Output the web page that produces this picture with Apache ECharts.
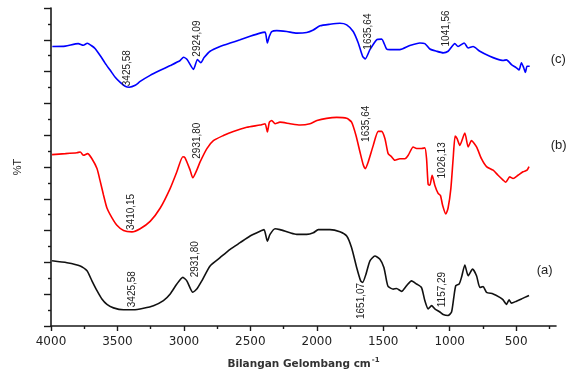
<!DOCTYPE html>
<html><head><meta charset="utf-8">
<script src="https://cdn.jsdelivr.net/npm/echarts@6/dist/echarts.min.js"></script>
<style>html,body{margin:0;padding:0;background:#fff}#c{width:574px;height:375px}</style>
</head><body><div id="c"></div>
<script>
// x tick labels (wavenumber, cm-1)
const majorTicks = [4000, 3500, 3000, 2500, 2000, 1500, 1000, 500];
const minorTicks = [3750, 3250, 2750, 2250, 1750, 1250, 750, 250];

// (c) blue
const cWn = [3990,3892,3795,3757,3727,3697,3667,3629,3592,3554,3517,3479,3442,3411,3366,3329,3254,3178,3103,3028,3003,2976,2928,2898,2873,2848,2803,2728,2652,2577,2502,2427,2389,2372,2357,2339,2301,2226,2151,2076,2026,1976,1901,1826,1775,1726,1688,1655,1635,1600,1550,1512,1475,1450,1375,1300,1224,1187,1149,1099,1049,1012,961,937,891,861,824,773,698,648,598,573,535,498,478,460,443,430,418,398];
const cT  = [87.9,88.0,88.8,88.3,88.9,88.2,87.2,85.0,82.6,80.4,78.2,76.6,75.4,75.1,75.7,76.9,78.8,80.4,81.9,83.5,84.5,83.8,80.7,83.8,82.8,84.4,86.4,87.9,89.0,90.0,91.1,92.1,92.4,89.0,91.1,92.6,92.9,92.6,92.1,92.3,93.1,94.4,94.9,95.2,94.7,92.6,89.0,84.8,84.0,86.9,90.0,90.2,87.1,86.9,86.9,88.2,89.0,88.8,87.1,86.4,85.9,86.4,88.8,87.9,89.0,87.4,87.9,86.4,84.8,84.0,83.5,83.7,82.2,81.2,80.5,82.8,81.2,79.7,81.7,81.7];

// (b) red
const bWn = [3992,3892,3805,3780,3755,3725,3692,3654,3629,3605,3579,3541,3504,3454,3391,3329,3254,3178,3103,3053,3008,2991,2953,2933,2903,2878,2827,2778,2703,2628,2527,2427,2389,2372,2357,2339,2314,2277,2201,2126,2051,1999,1926,1850,1775,1738,1705,1675,1650,1635,1613,1575,1538,1512,1487,1463,1437,1412,1375,1337,1312,1275,1249,1212,1187,1174,1162,1149,1132,1112,1087,1069,1054,1029,1012,991,974,959,944,924,886,861,836,798,761,723,673,636,598,578,548,523,486,448,418,403];
const bT  = [53.9,54.2,54.5,54.7,53.7,54.2,52.6,49.5,45.4,41.2,37.1,34.0,31.7,30.0,29.6,30.6,32.9,37.1,43.3,48.5,53.2,52.9,49.0,46.6,49.0,51.6,55.8,58.3,59.9,61.2,62.5,63.2,63.6,61.0,64.1,64.6,63.6,64.1,63.6,63.2,63.6,64.6,65.3,65.6,65.3,64.1,59.9,54.7,50.6,49.5,51.6,56.8,61.2,61.2,58.9,54.2,53.2,52.1,52.6,52.6,53.7,56.3,55.8,55.8,56.0,52.6,44.5,44.3,47.4,44.3,41.7,41.0,38.1,35.2,37.1,43.3,52.6,59.7,58.9,56.8,60.7,56.3,58.3,56.3,52.6,50.1,49.0,47.4,45.9,45.2,46.9,46.4,47.4,48.5,49.0,50.1];

// (a) black
const aWn = [3992,3880,3780,3729,3692,3654,3617,3579,3530,3454,3379,3304,3229,3154,3103,3053,3008,2978,2933,2903,2865,2803,2728,2652,2577,2502,2427,2397,2372,2352,2314,2277,2201,2151,2076,2026,1989,1901,1826,1775,1738,1700,1670,1655,1630,1600,1563,1525,1495,1475,1463,1425,1400,1362,1324,1287,1249,1212,1187,1162,1136,1112,1074,1049,1012,986,969,954,929,911,886,861,828,798,773,749,723,673,623,598,573,553,535,498,460,435,403];
const aT  = [20.5,19.9,18.9,17.4,14.2,11.1,8.5,6.8,5.7,5.1,5.1,5.6,6.4,8.0,10.1,13.2,15.3,14.2,10.6,11.6,14.2,18.9,21.5,24.1,26.2,28.3,29.8,30.3,26.7,28.8,30.6,30.3,29.3,28.8,28.8,29.3,30.3,30.3,29.6,28.3,24.6,18.4,14.2,13.7,16.3,20.5,22.0,21.0,18.4,14.2,12.4,11.6,11.8,10.9,12.7,14.2,13.2,12.1,8.0,5.4,6.4,5.4,4.4,3.6,3.3,4.4,9.0,12.7,13.2,15.3,19.2,15.8,17.9,15.8,12.1,12.4,10.6,10.1,9.0,8.2,6.8,8.2,7.2,7.8,8.5,9.0,9.6];

// peak annotations (text, wavenumber, %T at text baseline start)
const cAnnoText = ['3425,58', '2924,09', '1635,64', '1041,56'];
const cAnnoWn   = [3427, 2900, 1615, 1029];
const cAnnoT    = [75.4, 84.7, 86.9, 87.9];
const bAnnoText = ['3410,15', '2931,80', '1635,64', '1026,13'];
const bAnnoWn   = [3396, 2900, 1630, 1059];
const bAnnoT    = [30.2, 52.6, 57.9, 46.4];
const aAnnoText = ['3425,58', '2931,80', '1651,07', '1157,29'];
const aAnnoWn   = [3389, 2915, 1668, 1059];
const aAnnoT    = [5.9, 15.3, 2.2, 5.9];

// curve tags
const tagText = ['(c)', '(b)', '(a)'];
const tagWn   = [240, 240, 345];
const tagT    = [83.8, 56.7, 17.4];

function pairs(xs, ys) { return xs.map((x, i) => [x, ys[i]]); }
function annos(texts, wns, ts, tagIdx) {
  const d = texts.map((t, i) => ({
    name: t, coord: [wns[i], ts[i]],
    label: { show: true, formatter: t, rotate: 90, position: [0, 0], align: 'left', verticalAlign: 'middle',
      fontFamily: 'Liberation Sans', fontSize: 10, color: '#222' }
  }));
  d.push({
    name: tagText[tagIdx], coord: [tagWn[tagIdx], tagT[tagIdx]],
    label: { show: true, formatter: tagText[tagIdx], position: [0, 0], align: 'left', verticalAlign: 'middle',
      fontFamily: 'Liberation Sans', fontSize: 13, color: '#222' }
  });
  return { symbol: 'circle', symbolSize: 0, silent: true, animation: false, data: d };
}

const chart = echarts.init(document.getElementById('c'), null, { renderer: 'canvas' });
const axisColor = '#1a1a1a';
chart.setOption({
  animation: false,
  backgroundColor: '#fff',
  grid: { left: 51, right: 18, top: 8, bottom: 46, containLabel: false },
  xAxis: [{
    type: 'value', min: 200, max: 4000, inverse: true,
    name: 'Bilangan Gelombang cm{sup|-1}',
    nameLocation: 'middle', nameGap: 31,
    nameTextStyle: { fontFamily: 'DejaVu Sans', fontSize: 10.5, fontWeight: 'bold', color: '#333',
      rich: { sup: { fontFamily: 'DejaVu Sans', fontSize: 7, fontWeight: 'bold', color: '#333', verticalAlign: 'top', padding: [0, 0, 8, 1] } } },
    axisLine: { show: true, onZero: false, lineStyle: { color: axisColor, width: 1.6 } },
    axisTick: { show: true, length: 5, inside: false, customValues: majorTicks, lineStyle: { color: axisColor, width: 1.4 } },
    axisLabel: { show: true, customValues: majorTicks, margin: 10, fontFamily: 'DejaVu Sans', fontSize: 12, color: '#222',
      formatter: v => String(v) },
    splitLine: { show: false }
  }, {
    type: 'value', min: 200, max: 4000, inverse: true, position: 'bottom',
    axisLine: { show: false },
    axisTick: { show: true, length: 3, customValues: minorTicks, lineStyle: { color: axisColor, width: 1.4 } },
    axisLabel: { show: false },
    splitLine: { show: false }
  }],
  yAxis: {
    type: 'value', min: 0, max: 100, interval: 10,
    name: '%T', nameLocation: 'middle', nameGap: 28, nameRotate: 90,
    nameTextStyle: { fontFamily: 'Liberation Sans', fontSize: 11, color: '#222' },
    axisLine: { show: true, lineStyle: { color: axisColor, width: 1.6 } },
    axisTick: { show: true, length: 7, lineStyle: { color: axisColor, width: 1.4 } },
    minorTick: { show: true, splitNumber: 2, length: 3, lineStyle: { color: axisColor, width: 1.4 } },
    axisLabel: { show: false },
    splitLine: { show: false }, minorSplitLine: { show: false }
  },
  series: [
    { type: 'line', name: 'c', data: pairs(cWn, cT), showSymbol: false, smooth: 0.2,
      lineStyle: { color: '#0000ff', width: 1.6 }, itemStyle: { color: '#0000ff' },
      markPoint: annos(cAnnoText, cAnnoWn, cAnnoT, 0) },
    { type: 'line', name: 'b', data: pairs(bWn, bT), showSymbol: false, smooth: 0.2,
      lineStyle: { color: '#ff0000', width: 1.6 }, itemStyle: { color: '#ff0000' },
      markPoint: annos(bAnnoText, bAnnoWn, bAnnoT, 1) },
    { type: 'line', name: 'a', data: pairs(aWn, aT), showSymbol: false, smooth: 0.2,
      lineStyle: { color: '#111111', width: 1.6 }, itemStyle: { color: '#111111' },
      markPoint: annos(aAnnoText, aAnnoWn, aAnnoT, 2) }
  ]
});
</script></body></html>
